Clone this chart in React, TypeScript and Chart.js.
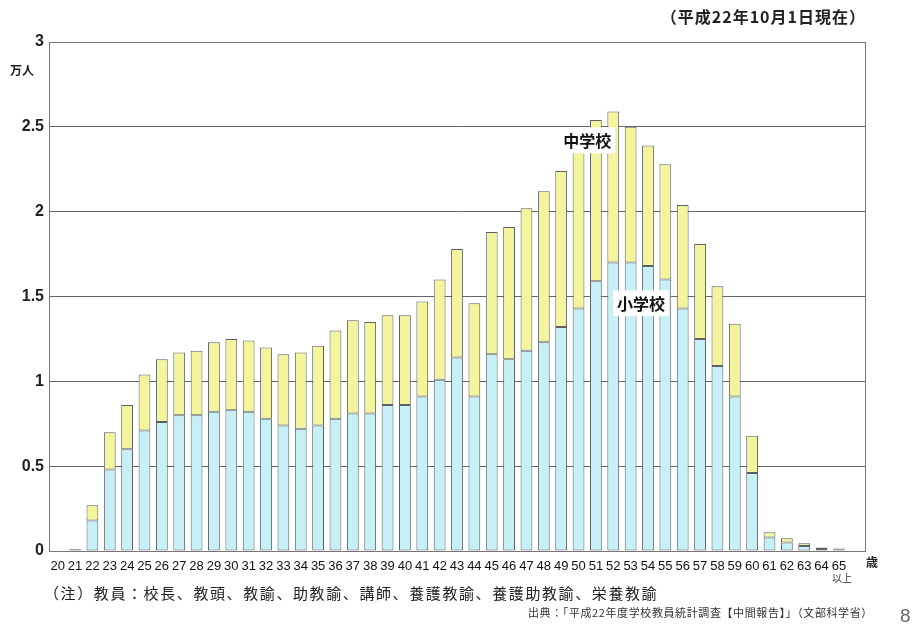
import React, { useEffect, useRef } from "react";
import { Chart, registerables } from "chart.js";

Chart.register(...registerables);

// Age categories (last empty slot leaves room at the right edge like the original)
const ages: string[] = [
  "20", "21", "22", "23", "24", "25", "26", "27", "28", "29",
  "30", "31", "32", "33", "34", "35", "36", "37", "38", "39",
  "40", "41", "42", "43", "44", "45", "46", "47", "48", "49",
  "50", "51", "52", "53", "54", "55", "56", "57", "58", "59",
  "60", "61", "62", "63", "64", "65", "",
];

// 小学校 (ten-thousands of teachers)
const elementary: (number | null)[] = [
  0, 0.008, 0.18, 0.48, 0.6, 0.71, 0.76, 0.8, 0.8, 0.82,
  0.83, 0.82, 0.78, 0.74, 0.72, 0.74, 0.78, 0.81, 0.81, 0.86,
  0.86, 0.91, 1.01, 1.14, 0.91, 1.16, 1.13, 1.18, 1.23, 1.32,
  1.43, 1.59, 1.7, 1.7, 1.68, 1.6, 1.43, 1.25, 1.09, 0.91,
  0.46, 0.08, 0.05, 0.03, 0.012, 0.01, null,
];

// 中学校 (stacked on top of 小学校)
const juniorHigh: (number | null)[] = [
  0, 0.004, 0.09, 0.22, 0.26, 0.33, 0.37, 0.37, 0.38, 0.41,
  0.42, 0.42, 0.42, 0.42, 0.45, 0.47, 0.52, 0.55, 0.54, 0.53,
  0.53, 0.56, 0.59, 0.64, 0.55, 0.72, 0.78, 0.84, 0.89, 0.92,
  0.96, 0.95, 0.89, 0.8, 0.71, 0.68, 0.61, 0.56, 0.47, 0.43,
  0.22, 0.03, 0.025, 0.015, 0.008, 0.005, null,
];

const yTicks: number[] = [0, 0.5, 1, 1.5, 2, 2.5, 3];

const seriesLabels = ["小学校", "中学校"];

const NUM_FONT = '"Liberation Sans", Arial, "Noto Sans CJK JP", sans-serif';
const JP_FONT = '"Noto Sans CJK JP", "Liberation Sans", sans-serif';

const annotations = [
  { text: "中学校", xIndex: 30.5, yValue: 2.42 },
  { text: "小学校", xIndex: 33.6, yValue: 1.46 },
];

const framePlugin = {
  id: "frameAndLabels",
  afterDatasetsDraw(chart: any) {
    const { ctx, chartArea, scales } = chart;
    ctx.save();
    // frame
    ctx.strokeStyle = "#777";
    ctx.lineWidth = 1;
    ctx.strokeRect(
      Math.round(chartArea.left) + 0.5,
      Math.round(chartArea.top) + 0.5,
      Math.round(chartArea.right - chartArea.left),
      Math.round(chartArea.bottom - chartArea.top)
    );
    // series labels inside the plot
    ctx.font = `bold 16px ${JP_FONT}`;
    ctx.textAlign = "center";
    ctx.textBaseline = "middle";
    for (const a of annotations) {
      const x = scales.x.getPixelForValue(a.xIndex);
      const y = scales.y.getPixelForValue(a.yValue);
      const w = ctx.measureText(a.text).width + 8;
      ctx.fillStyle = "#ffffff";
      ctx.fillRect(x - w / 2, y - 13, w, 26);
      ctx.fillStyle = "#111";
      ctx.fillText(a.text, x, y + 1);
    }
    ctx.restore();
  },
};

export default function App() {
  const canvasRef = useRef<HTMLCanvasElement | null>(null);

  useEffect(() => {
    if (!canvasRef.current) return;
    const chart = new Chart(canvasRef.current, {
      type: "bar",
      data: {
        labels: ages,
        datasets: [
          {
            label: seriesLabels[0],
            data: elementary,
            backgroundColor: "#c6eff6",
            borderColor: "#5a6066",
            borderWidth: 1,
            borderSkipped: false,
            barPercentage: 0.68,
            categoryPercentage: 1,
          },
          {
            label: seriesLabels[1],
            data: juniorHigh,
            backgroundColor: "#f4f49c",
            borderColor: "#5a6066",
            borderWidth: 1,
            borderSkipped: false,
            barPercentage: 0.68,
            categoryPercentage: 1,
          },
        ],
      },
      options: {
        animation: false,
        responsive: false,
        maintainAspectRatio: false,
        layout: { padding: { top: 42, right: 53, left: 0, bottom: 0 } },
        plugins: {
          legend: { display: false },
          tooltip: { enabled: false },
          title: { display: false },
        },
        scales: {
          x: {
            stacked: true,
            grid: { display: false, drawTicks: false },
            border: { display: true, color: "#777" },
            ticks: {
              autoSkip: false,
              maxRotation: 0,
              minRotation: 0,
              padding: 8,
              color: "#111",
              font: { family: NUM_FONT, size: 13 },
            },
            afterFit(scale: any) {
              scale.height = 80;
            },
          },
          y: {
            stacked: true,
            min: 0,
            max: 3,
            afterBuildTicks(scale: any) {
              scale.ticks = yTicks.map((v) => ({ value: v }));
            },
            grid: { color: "#666", lineWidth: 1, drawTicks: false },
            border: { display: true, color: "#777" },
            ticks: {
              padding: 5,
              color: "#222",
              font: { family: NUM_FONT, size: 16, weight: "bold" },
              callback: (v: any) => String(v),
            },
            afterFit(scale: any) {
              scale.width = 49;
            },
          },
        },
      },
      plugins: [framePlugin],
    });
    return () => chart.destroy();
  }, []);

  const abs = (s: React.CSSProperties): React.CSSProperties => ({
    position: "absolute",
    whiteSpace: "nowrap",
    margin: 0,
    lineHeight: 1,
    ...s,
  });

  return (
    <div
      style={{
        position: "absolute",
        left: 0,
        top: 0,
        width: 918,
        height: 631,
        background: "#ffffff",
        overflow: "hidden",
      }}
    >
      <canvas
        ref={canvasRef}
        width={918}
        height={631}
        style={{ position: "absolute", left: 0, top: 0, width: 918, height: 631 }}
      />
      <div
        style={abs({
          right: 52,
          top: 8,
          fontFamily: JP_FONT,
          fontWeight: 700,
          fontSize: 16,
          letterSpacing: 1,
          color: "#222",
        })}
      >
        （平成22年10月1日現在）
      </div>
      <div
        style={abs({
          left: 10,
          top: 64,
          fontFamily: JP_FONT,
          fontWeight: 700,
          fontSize: 12,
          color: "#222",
        })}
      >
        万人
      </div>
      <div
        style={abs({
          left: 866,
          top: 556,
          fontFamily: JP_FONT,
          fontWeight: 700,
          fontSize: 12,
          color: "#222",
        })}
      >
        歳
      </div>
      <div
        style={abs({
          left: 832,
          top: 573,
          fontFamily: JP_FONT,
          fontSize: 10,
          color: "#333",
        })}
      >
        以上
      </div>
      <div
        style={abs({
          left: 44,
          top: 585,
          fontFamily: JP_FONT,
          fontSize: 15,
          letterSpacing: 1.6,
          color: "#222",
        })}
      >
        （注）教員：校長、教頭、教諭、助教諭、講師、養護教諭、養護助教諭、栄養教諭
      </div>
      <div
        style={abs({
          left: 528,
          top: 607,
          fontFamily: JP_FONT,
          fontSize: 11,
          letterSpacing: 0.6,
          color: "#333",
        })}
      >
        出典：「平成22年度学校教員統計調査【中間報告】」（文部科学省）
      </div>
      <div
        style={abs({
          left: 900,
          top: 606,
          fontFamily: NUM_FONT,
          fontSize: 19,
          color: "#666",
        })}
      >
        8
      </div>
    </div>
  );
}
